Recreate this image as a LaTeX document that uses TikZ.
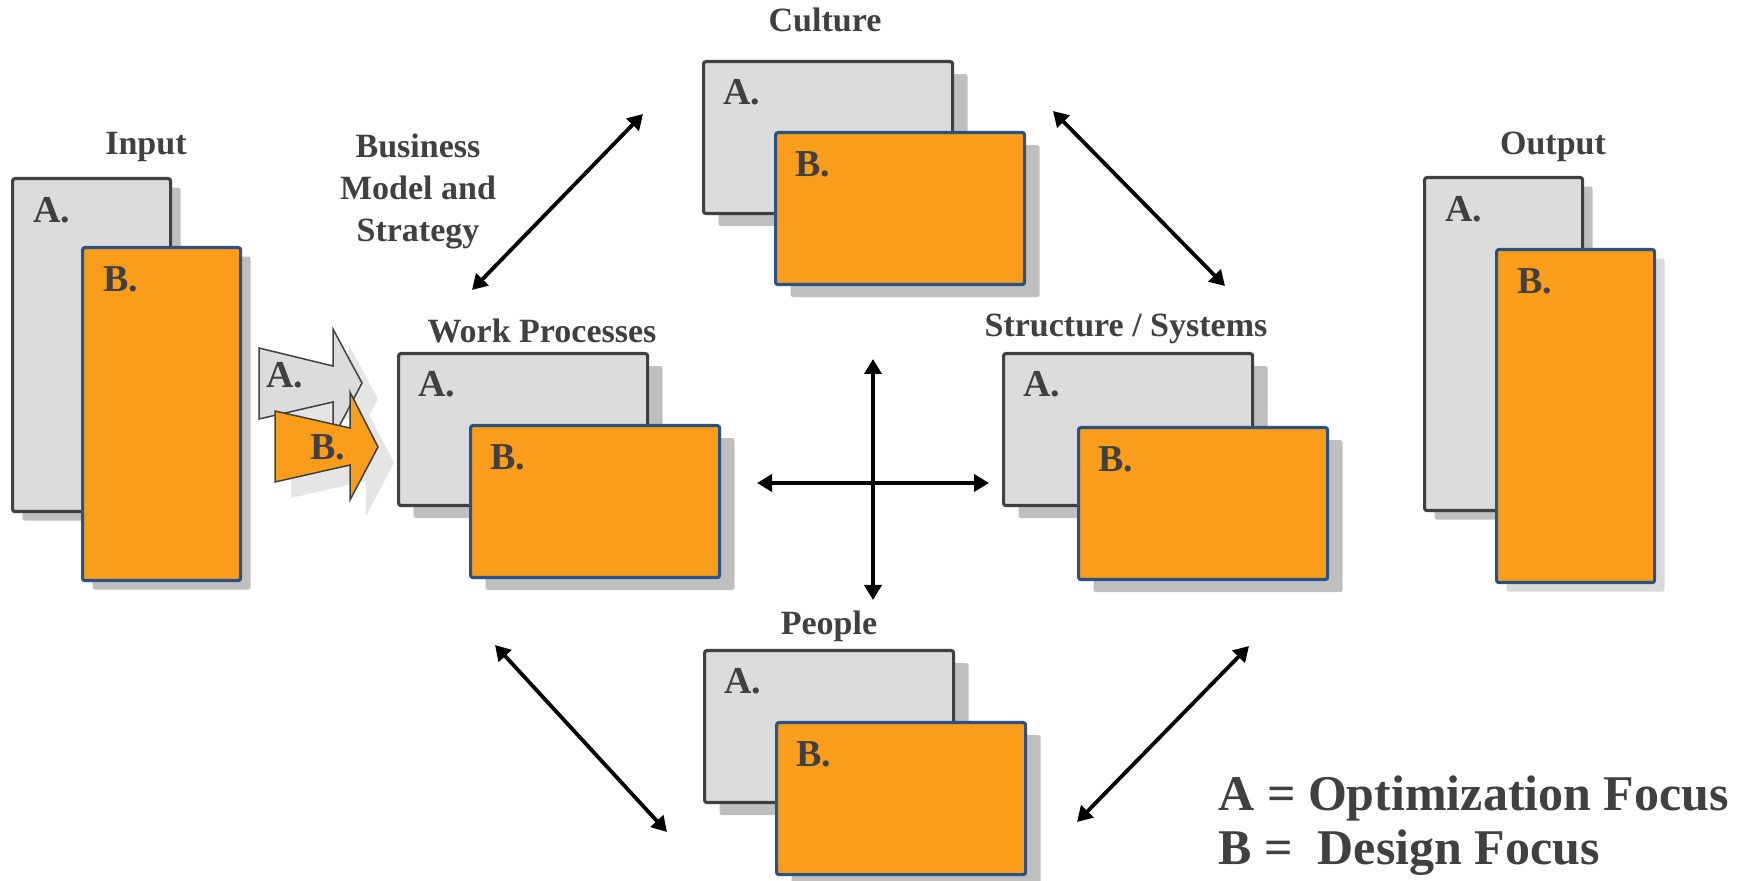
\documentclass[tikz,border=0pt]{standalone}
\usepackage{fontspec}
\setmainfont{Liberation Serif}
\usetikzlibrary{arrows.meta,shadows,calc}

\definecolor{boxgray}{HTML}{DCDCDC}
\definecolor{edgegray}{HTML}{404040}
\definecolor{boxorange}{HTML}{F99D1A}
\definecolor{blueedge}{HTML}{2B5287}
\definecolor{shadowgray}{HTML}{BFBFBF}
\definecolor{softshadow}{HTML}{D9D9D9}
\definecolor{arrowshadow}{HTML}{E5E5E5}
\definecolor{textgray}{HTML}{404040}

\begin{document}
\begin{tikzpicture}[x=0.5pt,y=-0.5pt,
  panelA/.style={draw=edgegray, fill=boxgray, line width=1.6pt, rounded corners=1.2pt,
    anchor=north west, inner sep=0pt, minimum width=124.5pt, minimum height=76pt},
  panelB/.style={panelA, draw=blueedge, fill=boxorange},
  tall/.style={minimum width=79pt, minimum height=166.5pt},
  midshadow/.style={general shadow={shadow xshift=7.5pt, shadow yshift=-6.25pt, fill=shadowgray}},
  sideshadow/.style={general shadow={shadow xshift=5pt, shadow yshift=-4.5pt, fill=#1}},
  sideshadow/.default=shadowgray,
  title/.style={font=\fontsize{17}{21}\selectfont\bfseries, text=textgray, inner sep=0pt},
  tag/.style={font=\fontsize{19}{22}\selectfont\bfseries, text=textgray, inner sep=0pt, anchor=base west},
  legend/.style={font=\fontsize{25}{28}\selectfont\bfseries, text=textgray, inner sep=0pt, anchor=base west},
  link/.style={line width=1.9pt, {Triangle[length=7.5pt,width=8.5pt]}-{Triangle[length=7.5pt,width=8.5pt]}},
  flat/.style={draw=edgegray, line width=0.75pt, line join=miter}
]
\useasboundingbox (0,0) rectangle (1752,881);

% ---------- Input ----------
\node[panelA, tall, sideshadow] (inA) at (11,177) {};
\node[panelB, tall, sideshadow] (inB) at (81,246) {};
\node[tag] (inAtag) at ($(inA.north west)+(22,46)$) {A.};
\node[tag] (inBtag) at ($(inB.north west)+(22,46)$) {B.};
\node[title, anchor=base] (tInput) at (146,155) {Input};

% ---------- Output ----------
\node[panelA, tall, sideshadow] (outA) at (1423,176) {};
\node[panelB, tall, sideshadow=softshadow] (outB) at (1495,248) {};
\node[tag] (outAtag) at ($(outA.north west)+(22,46)$) {A.};
\node[tag] (outBtag) at ($(outB.north west)+(22,46)$) {B.};
\node[title, anchor=base] (tOutput) at (1553,155) {Output};

% ---------- Culture ----------
\node[panelA, midshadow] (cultA) at (702,60) {};
\node[panelB, midshadow] (cultB) at (774,131) {};
\node[tag] (cultAtag) at ($(cultA.north west)+(21,45)$) {A.};
\node[tag] (cultBtag) at ($(cultB.north west)+(21,46)$) {B.};
\node[title, anchor=base] (tCulture) at (825,32) {Culture};

% ---------- Work Processes ----------
\node[panelA, midshadow] (wpA) at (397,352) {};
\node[panelB, midshadow] (wpB) at (469,424) {};
\node[tag] (wpAtag) at ($(wpA.north west)+(21,45)$) {A.};
\node[tag] (wpBtag) at ($(wpB.north west)+(21,46)$) {B.};
\node[title, anchor=base] (tWP) at (542,343) {Work Processes};

% ---------- Structure / Systems ----------
\node[panelA, midshadow] (ssA) at (1002,352) {};
\node[panelB, midshadow] (ssB) at (1077,426) {};
\node[tag] (ssAtag) at ($(ssA.north west)+(21,45)$) {A.};
\node[tag] (ssBtag) at ($(ssB.north west)+(21,46)$) {B.};
\node[title, anchor=base] (tSS) at (1126,337) {Structure / Systems};

% ---------- People ----------
\node[panelA, midshadow] (pplA) at (703,649) {};
\node[panelB, midshadow] (pplB) at (775,721) {};
\node[tag] (pplAtag) at ($(pplA.north west)+(21,45)$) {A.};
\node[tag] (pplBtag) at ($(pplB.north west)+(21,46)$) {B.};
\node[title, anchor=base] (tPeople) at (829,635) {People};

% ---------- Business model label ----------
\node[title, align=center] (tBMS) at (418,191) {Business\\Model and\\Strategy};

% ---------- Input flow arrows ----------
\fill[arrowshadow, shift={(16,16)}]
  (259,348) -- (333,366) -- (333,329) -- (362,383) -- (333,438) -- (333,402) -- (259,419) -- cycle;
\filldraw[flat, fill=boxgray]
  (259,348) -- (333,366) -- (333,329) -- (362,383) -- (333,438) -- (333,402) -- (259,419) -- cycle;
\node[tag] (flowAtag) at (266,388) {A.};
\fill[arrowshadow, shift={(16,16)}]
  (275,411) -- (350,428) -- (350,392) -- (378,447) -- (350,500) -- (350,465) -- (275,482) -- cycle;
\filldraw[flat, fill=boxorange]
  (275,411) -- (350,428) -- (350,392) -- (378,447) -- (350,500) -- (350,465) -- (275,482) -- cycle;
\node[tag] (flowBtag) at (310,460) {B.};

% ---------- Connector end points ----------
\coordinate (cwC) at (643,114);
\coordinate (cwW) at (472,290);
\coordinate (csC) at (1053,111);
\coordinate (csS) at (1225,286);
\coordinate (wpW) at (495,645);
\coordinate (wpP) at (667,832);
\coordinate (spS) at (1249,646);
\coordinate (spP) at (1077,822);
\coordinate (hL) at (757,483);
\coordinate (hR) at (989,483);
\coordinate (vT) at (873,359);
\coordinate (vB) at (873,600);

% ---------- Connectors ----------
\draw[link] (cwW) -- (cwC);
\draw[link] (csC) -- (csS);
\draw[link] (wpW) -- (wpP);
\draw[link] (spS) -- (spP);
\draw[link] (hL) -- (hR);
\draw[link] (vT) -- (vB);

% ---------- Legend ----------
\node[legend] (legA) at (1218,811) {A = Optimization Focus};
\node[legend] (legB) at (1218,864) {B =\ \ Design Focus};
\end{tikzpicture}
\end{document}
